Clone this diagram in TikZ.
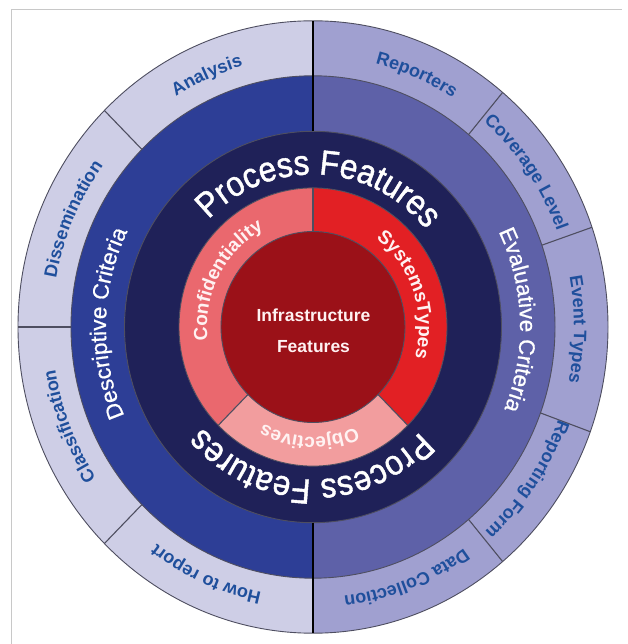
\documentclass[tikz,border=0pt]{standalone}
\usepackage{fontspec}
\setmainfont{Liberation Sans}
\newfontfamily\procfont[FakeStretch=0.9,FakeBold=1.3]{Liberation Sans}
\newfontfamily\critfont[FakeBold=0.8]{Liberation Sans}
\usetikzlibrary{decorations.text}

\definecolor{outerL}{HTML}{CECEE6}
\definecolor{outerR}{HTML}{A0A0D0}
\definecolor{bandL}{HTML}{2D3E96}
\definecolor{bandR}{HTML}{5E61A8}
\definecolor{navy}{HTML}{1F2158}
\definecolor{pinkseg}{HTML}{EA686E}
\definecolor{redseg}{HTML}{E22024}
\definecolor{lightpink}{HTML}{F29D9E}
\definecolor{core}{HTML}{9B1118}
\definecolor{labelblue}{HTML}{1F4F9C}
\definecolor{edge}{HTML}{4E4E60}
\definecolor{framegray}{HTML}{C8C8C8}
\definecolor{paletext}{HTML}{FFF2F2}

% annular sector: colour, start, end, inner rx, inner ry, outer rx, outer ry
\newcommand\ringsector[7]{%
  \fill[#1] (#2:#6pt and #7pt) arc[start angle=#2, end angle=#3, x radius=#6pt, y radius=#7pt]
    -- (#3:#4pt and #5pt) arc[start angle=#3, end angle=#2, x radius=#4pt, y radius=#5pt] -- cycle;}

% radial divider: angle, inner rx, inner ry, outer rx, outer ry
\newcommand\ringdivider[5]{%
  \draw[divline] (#1:#2pt and #3pt) -- (#1:#4pt and #5pt);}

% clockwise text on an elliptic arc: centre angle, half span, rx, ry, font, colour, text
\newcommand\arclabel[7]{%
  \pgfmathsetmacro\angA{#1+#2}\pgfmathsetmacro\angB{#1-#2}%
  \path[decorate, decoration={text along path, text align=center,
      text color=#6, text={|#5|#7}}]
    (\angA:#3pt and #4pt) arc[start angle=\angA, end angle=\angB, x radius=#3pt, y radius=#4pt];}

\newcommand\fsOuter{\fontsize{18pt}{18pt}\selectfont\bfseries}
\newcommand\fsCrit{\critfont\fontsize{22.5pt}{22.5pt}\selectfont}
\newcommand\fsProc{\procfont\fontsize{35pt}{35pt}\selectfont}
\newcommand\fsRed{\fontsize{19pt}{19pt}\selectfont\bfseries}

\tikzset{
  divline/.style={draw=edge, line width=1.1pt},
  ringedge/.style={draw=edge, line width=0.9pt},
  axisline/.style={draw=black, line width=2.6pt},
}

\begin{document}
\begin{tikzpicture}[x=1pt,y=1pt]
\useasboundingbox (-313,-317) rectangle (314,327);

% frame
\draw[framegray, line width=1pt] (-301,-317) -- (-301,317) -- (309,317);

% outer ring
\ringsector{outerL}{90}{270}{242}{251.2}{295}{306.2}
\ringsector{outerR}{-90}{90}{242}{251.2}{295}{306.2}
% criteria band
\ringsector{bandL}{90}{270}{188.5}{195.7}{242}{251.2}
\ringsector{bandR}{-90}{90}{188.5}{195.7}{242}{251.2}
% process band
\ringsector{navy}{0}{360}{134}{139.1}{188.5}{195.7}
% feature ring
\ringsector{pinkseg}{90}{225}{92}{95.5}{134}{139.1}
\ringsector{redseg}{-45}{90}{92}{95.5}{134}{139.1}
\ringsector{lightpink}{225}{315}{92}{95.5}{134}{139.1}
% core
\fill[core] (0,0) ellipse[x radius=92pt, y radius=95.5pt];

% ring outlines
\draw[ringedge] (0,0) ellipse[x radius=295pt, y radius=306.2pt];
\draw[ringedge] (0,0) ellipse[x radius=242pt, y radius=251.2pt];
\draw[ringedge] (0,0) ellipse[x radius=188.5pt, y radius=195.7pt];
\draw[ringedge] (0,0) ellipse[x radius=134pt, y radius=139.1pt];
\draw[ringedge] (0,0) ellipse[x radius=92pt, y radius=95.5pt];

% outer ring dividers
\ringdivider{135}{242}{251.2}{295}{306.2}
\ringdivider{180}{242}{251.2}{295}{306.2}
\ringdivider{225}{242}{251.2}{295}{306.2}
\ringdivider{50}{242}{251.2}{295}{306.2}
\ringdivider{19}{242}{251.2}{295}{306.2}
\ringdivider{-20}{242}{251.2}{295}{306.2}
\ringdivider{-50}{242}{251.2}{295}{306.2}
% feature ring dividers
\ringdivider{90}{92}{95.5}{134}{139.1}
\ringdivider{225}{92}{95.5}{134}{139.1}
\ringdivider{-45}{92}{95.5}{134}{139.1}

% vertical axis
\draw[axisline] (90:188.5pt and 195.7pt) -- (90:295pt and 306.2pt);
\draw[axisline] (270:188.5pt and 195.7pt) -- (270:295pt and 306.2pt);

% outer labels
\arclabel{113.5}{22}{261}{270.9}{\fsOuter}{labelblue}{Analysis}
\arclabel{156.5}{22}{261}{270.9}{\fsOuter}{labelblue}{Dissemination}
\arclabel{201.5}{22}{261}{270.9}{\fsOuter}{labelblue}{Classification}
\arclabel{246}{22}{261}{270.9}{\fsOuter}{labelblue}{How to report}
\arclabel{67}{22}{261}{270.9}{\fsOuter}{labelblue}{Reporters}
\arclabel{35}{22}{261}{270.9}{\fsOuter}{labelblue}{Coverage Level}
\arclabel{-0.5}{22}{261}{270.9}{\fsOuter}{labelblue}{Event Types}
\arclabel{-34.5}{22}{261}{270.9}{\fsOuter}{labelblue}{Reporting Form}
\arclabel{-69}{22}{261}{270.9}{\fsOuter}{labelblue}{Data Collection}

% criteria labels
\arclabel{179}{60}{207}{214.9}{\fsCrit}{white}{Descriptive Criteria}
\arclabel{2}{60}{207}{214.9}{\fsCrit}{white}{Evaluative Criteria}

% process labels
\arclabel{87.5}{85}{147}{152.6}{\fsProc}{white}{Process Features}
\arclabel{269}{85}{147}{152.6}{\fsProc}{white}{Process Features}

% feature ring labels
\arclabel{152}{60}{106}{110}{\fsRed}{paletext}{Confidentiality}
\arclabel{19}{60}{106}{110}{\fsRed}{paletext}{SystemsTypes}
\arclabel{268}{42}{106}{110}{\fsRed}{paletext}{Objectives}

% core label
\node (infraA) [anchor=base, text=paletext, font=\fontsize{17.5pt}{17.5pt}\selectfont\bfseries, inner sep=0pt] at (0.5,5) {Infrastructure};
\node (infraB) [anchor=base, text=paletext, font=\fontsize{17.5pt}{17.5pt}\selectfont\bfseries, inner sep=0pt] at (0.5,-26) {Features};
\end{tikzpicture}
\end{document}
